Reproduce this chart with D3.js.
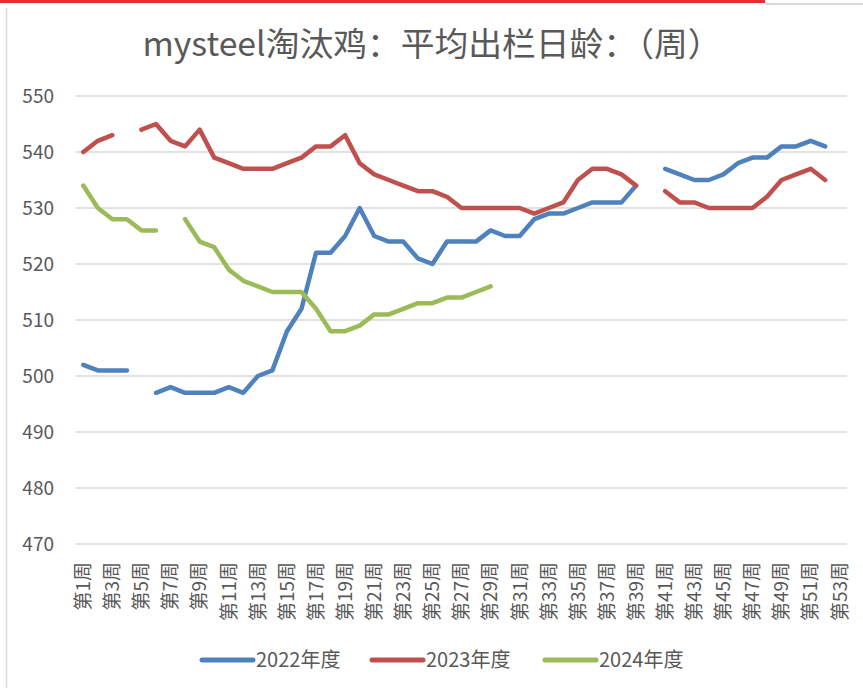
<!DOCTYPE html>
<html>
<head>
<meta charset="utf-8">
<script src="https://cdn.jsdelivr.net/npm/d3@7/dist/d3.min.js"></script>
<style>
  html, body { margin: 0; padding: 0; background: #fff; }
  svg { display: block; }
  text { font-family: "Noto Sans CJK SC", "Noto Sans", sans-serif; fill: #595959; }
</style>
</head>
<body>
<script>
const title = "mysteel淘汰鸡：平均出栏日龄：（周）";
const weeks = d3.range(1, 54).map(i => "第" + i + "周");
const yTicks = [470, 480, 490, 500, 510, 520, 530, 540, 550];
const seriesNames = ["2022年度", "2023年度", "2024年度"];
const seriesColors = ["#4F81BD", "#C0504D", "#9BBB59"];

const s2022 = [502,501,501,501,null,497,498,497,497,497,498,497,500,501,508,512,522,522,525,530,
  525,524,524,521,520,524,524,524,526,525,525,528,529,529,530,531,531,531,534,null,
  537,536,535,535,536,538,539,539,541,541,542,541,null];
const s2023 = [540,542,543,null,544,545,542,541,544,539,538,537,537,537,538,539,541,541,543,538,
  536,535,534,533,533,532,530,530,530,530,530,529,530,531,535,537,537,536,534,null,
  533,531,531,530,530,530,530,532,535,536,537,535,null];
const s2024 = [534,530,528,528,526,526,null,528,524,523,519,517,516,515,515,515,512,508,508,509,
  511,511,512,513,513,514,514,515,516,null,null,null,null,null,null,null,null,null,null,null,
  null,null,null,null,null,null,null,null,null,null,null,null,null];
const seriesData = [s2022, s2023, s2024];

const W = 863, H = 688;
const svg = d3.select("body").append("svg").attr("width", W).attr("height", H);

// frame decorations
svg.append("line").attr("x1", 0).attr("x2", 765).attr("y1", 1.5).attr("y2", 1.5)
  .attr("stroke", "#E03030").attr("stroke-width", 3);
svg.append("line").attr("x1", 765).attr("x2", W).attr("y1", 4).attr("y2", 4)
  .attr("stroke", "#D9D9D9").attr("stroke-width", 2);
svg.append("line").attr("x1", 6.5).attr("x2", 6.5).attr("y1", 8).attr("y2", H)
  .attr("stroke", "#D9D9D9").attr("stroke-width", 1.5);

const x = d3.scaleBand().domain(weeks).range([76, 847]).padding(0);
const y = d3.scaleLinear().domain([470, 550]).range([544, 96]);

// title
svg.append("text").attr("x", 432).attr("y", 56).attr("text-anchor", "middle")
  .attr("font-size", 33).attr("textLength", 579).attr("lengthAdjust", "spacingAndGlyphs")
  .text(title);

// gridlines
svg.append("g").selectAll("line").data(yTicks).join("line")
  .attr("x1", 76).attr("x2", 847)
  .attr("y1", d => y(d)).attr("y2", d => y(d))
  .attr("stroke", "#D9D9D9").attr("stroke-width", 1.5);

// y axis labels
const yAxis = d3.axisLeft(y).tickValues(yTicks).tickSize(0).tickPadding(0);
const gy = svg.append("g").attr("transform", "translate(54,0)").call(yAxis);
gy.select(".domain").remove();
gy.selectAll("text").attr("font-size", 19).attr("fill", "#595959")
  .style("font-family", "'Noto Sans CJK SC', sans-serif");

// x axis labels (every other week)
const xAxis = d3.axisBottom(x).tickValues(weeks.filter((d, i) => i % 2 === 0)).tickSize(0).tickPadding(0);
const gx = svg.append("g").attr("transform", "translate(0,544)").call(xAxis);
gx.select(".domain").remove();
gx.selectAll("text")
  .attr("font-size", 19).attr("fill", "#595959")
  .style("font-family", "'Noto Sans CJK SC', sans-serif")
  .attr("text-anchor", "end")
  .attr("transform", "rotate(-90)")
  .attr("x", -18).attr("y", 0).attr("dy", "0.36em");

// lines
const line = d3.line()
  .defined(d => d != null)
  .x((d, i) => x(weeks[i]) + x.bandwidth() / 2)
  .y(d => y(d));

svg.append("g").selectAll("path").data(seriesData).join("path")
  .attr("d", d => line(d))
  .attr("fill", "none")
  .attr("stroke", (d, i) => seriesColors[i])
  .attr("stroke-width", 4.5)
  .attr("stroke-linecap", "round")
  .attr("stroke-linejoin", "round");

// legend
const legX = [202, 372, 545];
const leg = svg.append("g").selectAll("g").data(seriesNames).join("g")
  .attr("transform", (d, i) => `translate(${legX[i]},660)`);
leg.append("line").attr("x1", 0).attr("x2", 51).attr("y1", 0).attr("y2", 0)
  .attr("stroke", (d, i) => seriesColors[i]).attr("stroke-width", 5).attr("stroke-linecap", "round");
leg.append("text").attr("x", 54).attr("y", 0).attr("dy", "0.36em")
  .attr("font-size", 20).text(d => d);
</script>
</body>
</html>
